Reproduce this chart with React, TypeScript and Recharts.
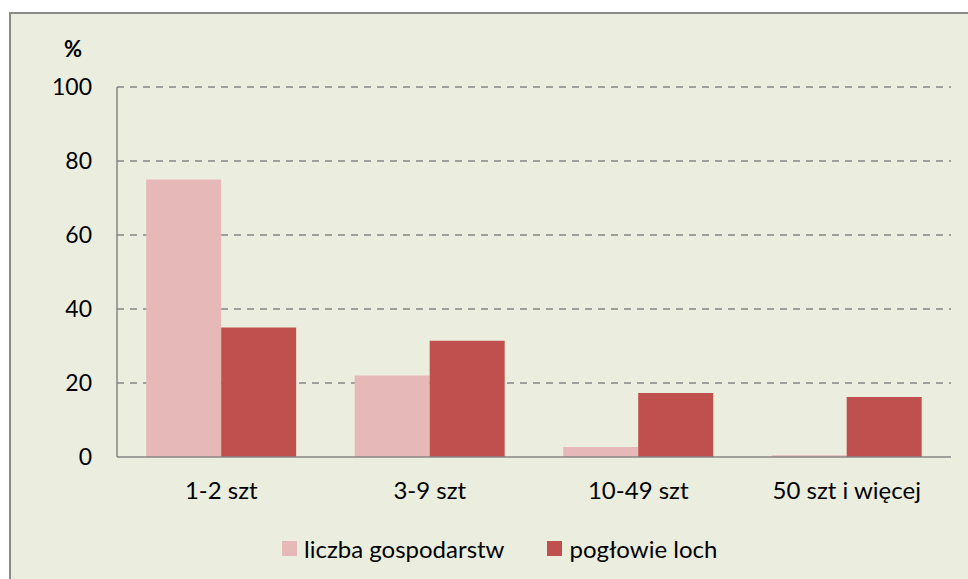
import React from 'react';
import { BarChart, Bar, XAxis, YAxis, CartesianGrid, Legend } from 'recharts';

const categories = ['1-2 szt', '3-9 szt', '10-49 szt', '50 szt i więcej'];
const liczbaGospodarstw = [75, 22, 2.7, 0.5];
const poglowieLoch = [35, 31.4, 17.3, 16.2];
const yTicks = [0, 20, 40, 60, 80, 100];

const seriesNames = ['liczba gospodarstw', 'pogłowie loch'];
const colors = ['#E6B9B8', '#C0504D'];

const data = categories.map((c, i) => ({
  name: c,
  a: liczbaGospodarstw[i],
  b: poglowieLoch[i],
}));

const FONT = 'Lato, "Open Sans", sans-serif';

const LegendContent = () => (
  <div style={{ display: 'flex', alignItems: 'center', paddingLeft: 282, height: 30, fontFamily: FONT, fontSize: 24, color: '#000' }}>
    {seriesNames.map((n, i) => (
      <div key={n} style={{ display: 'flex', alignItems: 'center', marginRight: i === 0 ? 43 : 0 }}>
        <div style={{ width: 15, height: 15, background: colors[i], marginRight: 7 }} />
        <span>{n}</span>
      </div>
    ))}
  </div>
);

export default function App() {
  return (
    <div style={{ position: 'fixed', left: 0, top: 0, width: 968, height: 579, overflow: 'hidden', background: '#fff' }}>
      <div style={{ position: 'absolute', left: 9, top: 12, width: 959, height: 567, background: '#EBEEDE', borderTop: '2px solid #8A8A8A', borderLeft: '2px solid #8A8A8A', boxSizing: 'border-box' }} />
      <div style={{ position: 'absolute', left: 0, top: 0 }}>
        <BarChart
          width={968}
          height={579}
          data={data}
          margin={{ top: 87, right: 17, bottom: 16, left: 57 }}
          barCategoryGap="14%"
          barGap={0}
        >
          <CartesianGrid vertical={false} stroke="#868686" strokeDasharray="7 6" strokeWidth={1.5} horizontalValues={[20, 40, 60, 80, 100]} />
          <XAxis
            dataKey="name"
            tickLine={false}
            axisLine={{ stroke: '#868686', strokeWidth: 1.5 }}
            height={76}
            tickMargin={19}
            tick={{ fill: '#000', fontSize: 24, fontFamily: FONT }}
            interval={0}
          />
          <YAxis
            domain={[0, 100]}
            ticks={yTicks}
            width={60}
            tickLine={false}
            axisLine={{ stroke: '#868686', strokeWidth: 1.5 }}
            tickMargin={19}
            tick={{ fill: '#000', fontSize: 23, fontFamily: FONT }}
            label={() => (
              <text x={73} y={48} textAnchor="middle" dominantBaseline="central" fontFamily={FONT} fontSize={22} fontWeight="bold" fill="#000">%</text>
            )}
          />
          <Legend verticalAlign="bottom" content={LegendContent} wrapperStyle={{ left: 0, width: 968 }} />
          <Bar dataKey="a" name={seriesNames[0]} fill={colors[0]} isAnimationActive={false} />
          <Bar dataKey="b" name={seriesNames[1]} fill={colors[1]} isAnimationActive={false} />
        </BarChart>
      </div>
    </div>
  );
}
